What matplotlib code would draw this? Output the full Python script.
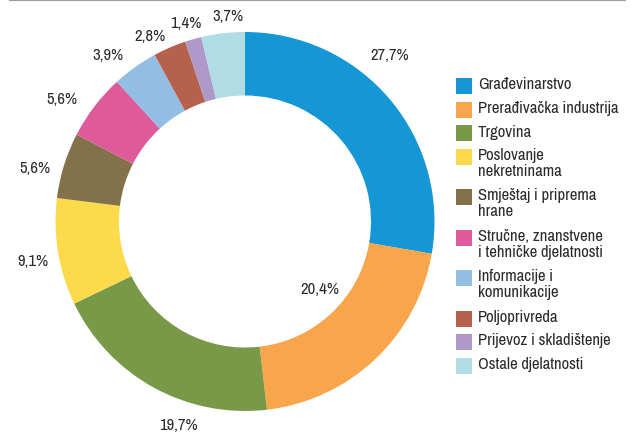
import matplotlib
matplotlib.use("Agg")
import matplotlib.pyplot as plt
from matplotlib import font_manager
from matplotlib.patches import Rectangle
from matplotlib.lines import Line2D

# prefer a condensed sans face when one is installed
_names = sorted({f.name for f in font_manager.fontManager.ttflist})
_narrow = [n for n in _names if "Narrow" in n or "Condensed" in n]
if _narrow:
    plt.rcParams['font.family'] = [_narrow[0], 'Liberation Sans', 'DejaVu Sans']
    FS = 12
else:
    plt.rcParams['font.family'] = ['Liberation Sans', 'DejaVu Sans']
    FS = 10

# Share of activities (%)
categories = [
    "Građevinarstvo",
    "Prerađivačka industrija",
    "Trgovina",
    "Poslovanje\nnekretninama",
    "Smještaj i priprema\nhrane",
    "Stručne, znanstvene\ni tehničke djelatnosti",
    "Informacije i\nkomunikacije",
    "Poljoprivreda",
    "Prijevoz i skladištenje",
    "Ostale djelatnosti",
]
values = [27.7, 20.4, 19.7, 9.1, 5.6, 5.6, 3.9, 2.8, 1.4, 3.7]
value_labels = ["27,7%", "20,4%", "19,7%", "9,1%", "5,6%", "5,6%", "3,9%", "2,8%", "1,4%", "3,7%"]

colors = ["#1596d5", "#f9a54b", "#789a48", "#fdd94c", "#83714a",
          "#de5a9a", "#93bde3", "#b5614c", "#ae98c8", "#afdde3"]

W, H = 634, 435
CX, CY, R = 245, 222.5, 189.5   # pie centre and outer radius in pixels

fig = plt.figure(figsize=(W / 100, H / 100), dpi=100)
ax = fig.add_axes([0, 0, 1, 1])

ax.pie(values, colors=colors, startangle=90, counterclock=False, radius=1.0,
       wedgeprops=dict(width=0.335, linewidth=0))

ax.set_xlim(-CX / R, (W - CX) / R)
ax.set_ylim(-(H - CY) / R, CY / R)
ax.set_aspect("equal")
ax.axis("off")

# label anchor points (pixels from top-left of the figure)
label_px = [(390, 56), (320, 289), (178, 425), (33, 261), (35, 169),
            (62, 100), (108, 56), (150, 37), (186, 24), (228, 17)]
text_color = "#2b2b2b"
for lab, (px, py) in zip(value_labels, label_px):
    ax.text((px - CX) / R, (CY - py) / R, lab, ha="center", va="center",
            fontsize=FS, color=text_color)

# legend drawn in pixel coordinates
def fx(px):
    return px / W

def fy(py):
    return 1 - py / H

y = 79
for cat, col in zip(categories, colors):
    fig.add_artist(Rectangle((fx(456), fy(y + 16)), 16 / W, 16 / H,
                             transform=fig.transFigure, facecolor=col,
                             edgecolor="none"))
    fig.text(fx(478), fy(y - 1.5), cat, ha="left", va="top", fontsize=FS,
             color=text_color, linespacing=1.08)
    y += 23.5 + 17 * cat.count("\n")

# thin rule across the top
fig.add_artist(Line2D([fx(10), fx(625)], [fy(0.8), fy(0.8)],
                      transform=fig.transFigure, color="#a0a0a0", linewidth=1.6))

fig.savefig("out.png", dpi=100)
